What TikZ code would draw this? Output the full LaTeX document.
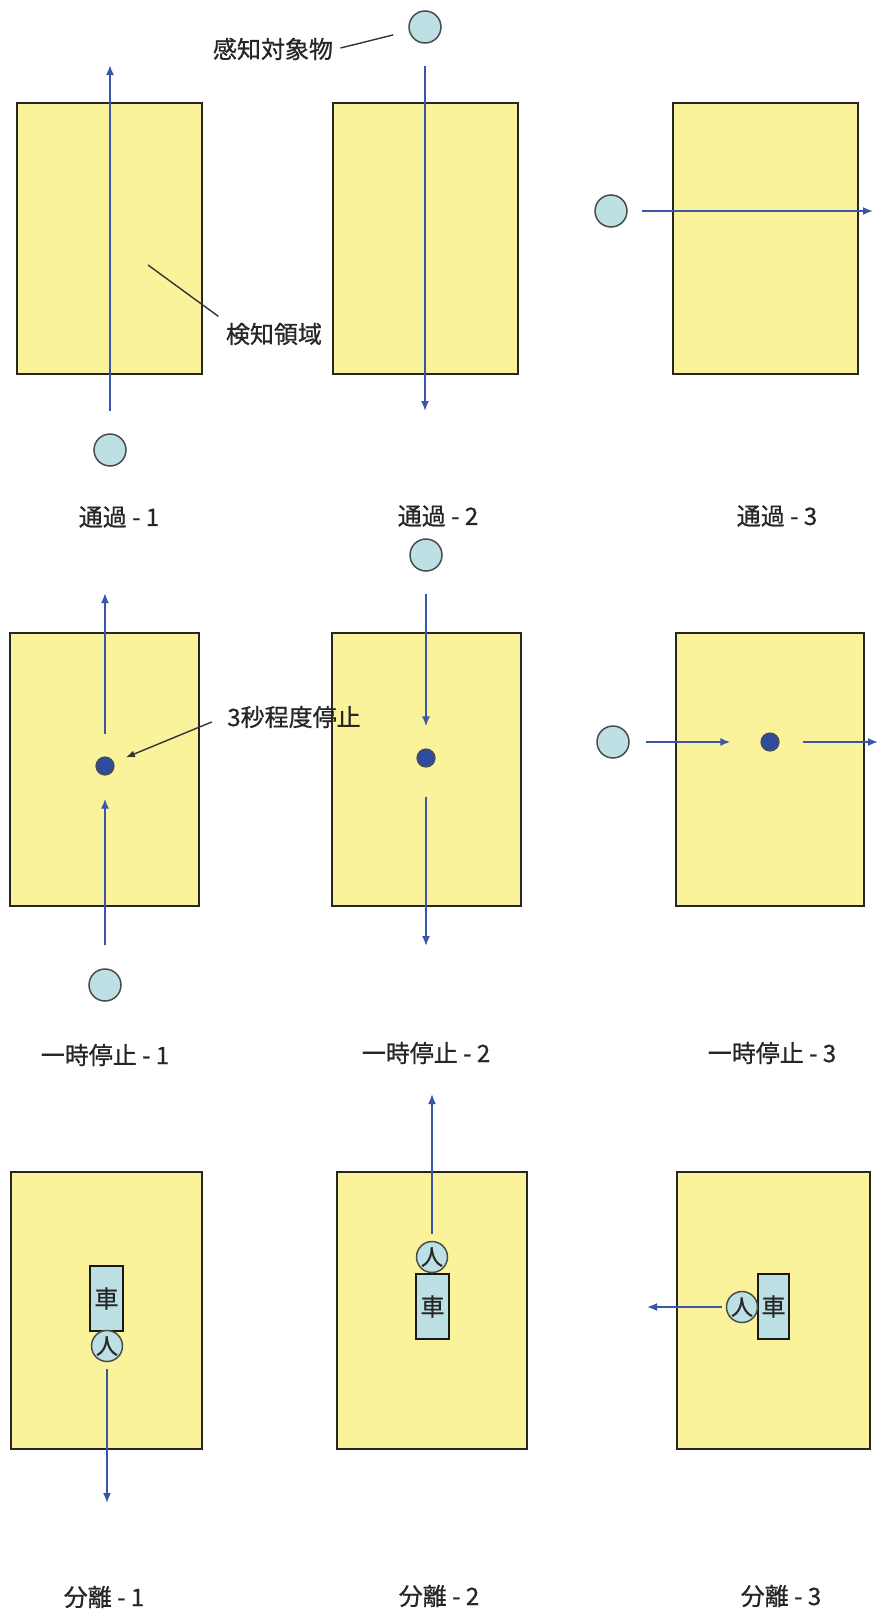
\documentclass[tikz,border=0pt]{standalone}
\usepackage{fontspec}
\setmainfont{Noto Sans CJK JP}[FakeBold=0.8]
\usepackage{tikz}
\usetikzlibrary{shapes,positioning,arrows.meta}
\definecolor{zonefill}{HTML}{FAF39B}
\definecolor{thingfill}{HTML}{BCE0E3}
\definecolor{flowblue}{HTML}{3A56A8}
\definecolor{haltfill}{HTML}{2D4C9E}

\begin{document}
\begin{tikzpicture}[x=1pt,y=-1pt,font=\fontsize{24}{28}\selectfont,text=black!85,
  zone/.style={draw=black!85,line width=2.2pt,fill=zonefill,inner sep=0pt},
  thing/.style={circle,draw=black!70,line width=1.5pt,fill=thingfill,minimum size=32pt,inner sep=0pt},
  halt/.style={circle,draw=black!70,line width=1.2pt,fill=haltfill,minimum size=18pt,inner sep=0pt},
  move/.style={draw=flowblue,line width=1.8pt,-{Latex[length=10pt,width=8pt]}},
  note/.style={draw=black!80,line width=1.4pt},
  car/.style={draw=black!90,line width=2.2pt,fill=thingfill,minimum width=33pt,minimum height=65pt,inner sep=0pt},
  person/.style={thing,minimum size=31pt,font=\fontsize{22}{23}\selectfont}]
  \useasboundingbox (0,0) rectangle (880,1614);

  % row 1
  \node[zone,minimum width=185pt,minimum height=271pt] (zone1) at (109.5,238.5) {};
  \node[zone,minimum width=185pt,minimum height=271pt] (zone2) at (425.5,238.5) {};
  \node[zone,minimum width=185pt,minimum height=271pt] (zone3) at (765.5,238.5) {};
  \coordinate (end1) at (110,65);
  \coordinate (end2) at (425,411);
  \coordinate (end3) at (873,211);
  \node[thing] (obj1) at (110,450) {};
  \draw[move,shorten <=22pt] (obj1) -- (end1);
  \node[thing] (obj2) at (425,27) {};
  \draw[move,shorten <=22pt] (obj2) -- (end2);
  \node[thing] (obj3) at (611,211) {};
  \draw[move,shorten <=14pt] (obj3) -- (end3);
  \node (target) at (273,49) {感知対象物};
  \draw[note,shorten <=4pt,shorten >=16pt] (target.east) -- (obj2);
  \node (area) at (274,334) {検知領域};
  \coordinate (inarea) at (148,265);
  \draw[note,shorten <=5pt] (area.north west) -- (inarea);
  \node (cap1) at (119,517) {通過 - 1};
  \node (cap2) at (438,516) {通過 - 2};
  \node (cap3) at (777,516) {通過 - 3};

  % row 2
  \node[zone,minimum width=189pt,minimum height=273pt] (zone4) at (104.5,769.5) {};
  \node[zone,minimum width=189pt,minimum height=273pt] (zone5) at (426.5,769.5) {};
  \node[zone,minimum width=188pt,minimum height=273pt] (zone6) at (770,769.5) {};
  \node[thing] (obj4) at (105,985) {};
  \node[halt] (stop4) at (105,766) {};
  \coordinate (end4) at (105,593);
  \draw[move,shorten <=23pt,shorten >=23pt] (obj4) -- (stop4);
  \draw[move,shorten <=22pt] (stop4) -- (end4);
  \node (wait) at (294,717) {3秒程度停止};
  \draw[note,-{Latex[length=9pt,width=7pt]},shorten <=13pt,shorten >=13pt] (wait.west) -- (stop4);
  \node[thing] (obj5) at (426,555) {};
  \node[halt] (stop5) at (426,758) {};
  \coordinate (end5) at (426,946);
  \draw[move,shorten <=22pt,shorten >=22pt] (obj5) -- (stop5);
  \draw[move,shorten <=29pt] (stop5) -- (end5);
  \node[thing] (obj6) at (613,742) {};
  \node[halt] (stop6) at (770,742) {};
  \coordinate (end6) at (878,742);
  \draw[move,shorten <=16pt,shorten >=30pt] (obj6) -- (stop6);
  \draw[move,shorten <=23pt] (stop6) -- (end6);
  \node (cap4) at (105,1055) {一時停止 - 1};
  \node (cap5) at (426,1053) {一時停止 - 2};
  \node (cap6) at (772,1053) {一時停止 - 3};

  % row 3
  \node[zone,minimum width=191pt,minimum height=277pt] (zone7) at (106.5,1310.5) {};
  \node[zone,minimum width=190pt,minimum height=277pt] (zone8) at (432,1310.5) {};
  \node[zone,minimum width=193pt,minimum height=277pt] (zone9) at (773.5,1310.5) {};
  \node[car] (car7) at (106.5,1298.5) {車};
  \node[person] (man7) at (107,1346) {人};
  \coordinate (end7) at (107,1503);
  \draw[move,shorten <=7pt] (man7) -- (end7);
  \node[car] (car8) at (432.5,1306.5) {車};
  \node[person] (man8) at (432,1257) {人};
  \coordinate (end8) at (432,1094);
  \draw[move,shorten <=7pt] (man8) -- (end8);
  \node[car,minimum width=31pt] (car9) at (773.5,1306.5) {車};
  \node[person] (man9) at (742,1307) {人};
  \coordinate (end9) at (647,1307);
  \draw[move,shorten <=4pt] (man9) -- (end9);
  \node (cap7) at (104,1597) {分離 - 1};
  \node (cap8) at (439,1596) {分離 - 2};
  \node (cap9) at (781,1596) {分離 - 3};
\end{tikzpicture}
\end{document}
